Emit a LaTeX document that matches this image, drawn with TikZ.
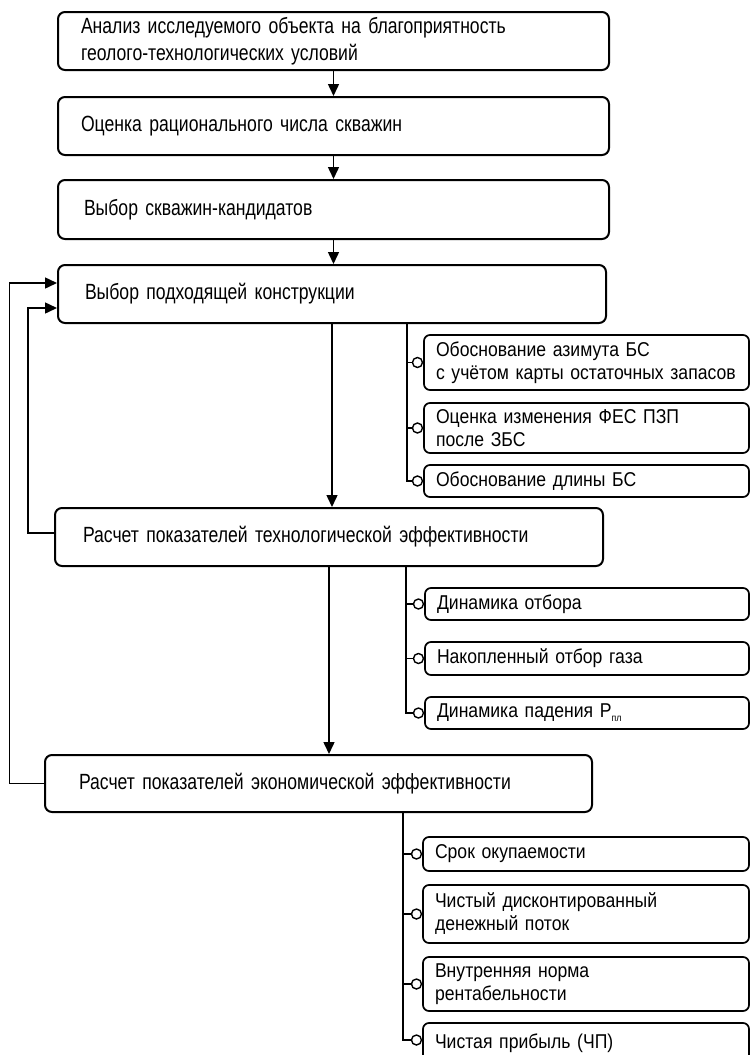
\documentclass[tikz,border=0pt]{standalone}
\usepackage{fontspec}
\setmainfont{Liberation Sans}
\newfontfamily\narrowfont[FakeStretch=0.8]{Liberation Sans}
\newfontfamily\subfont[FakeStretch=0.88]{Liberation Sans}
\usetikzlibrary{arrows.meta}
\begin{document}
\begin{tikzpicture}[x=1pt,y=-1pt,
  mainbox/.style={draw, line width=2pt, rounded corners=7pt, inner xsep=23pt, inner ysep=0pt,
    align=left, font=\narrowfont\fontsize{22}{27}\selectfont},
  subbox/.style={draw, line width=1.7pt, rounded corners=6pt, inner xsep=12pt, inner ysep=0pt,
    align=left, font=\subfont\fontsize{20}{23}\selectfont},
  conn/.style={line width=1.5pt},
  arr/.style={conn, -{Triangle[length=12pt,width=11pt]}},
  pin/.style={draw, line width=1.4pt, fill=white, circle, inner sep=0pt, minimum size=10pt}]
\useasboundingbox (0,0) rectangle (750,1055);
\clip (0,0) rectangle (750,1055);
\fill[white] (0,0) rectangle (750,1055);

% main boxes
\node[mainbox, minimum width=551pt, minimum height=58pt, text width=505pt] (b1) at (333.5,41)
  {Анализ исследуемого объекта на благоприятность\\геолого-технологических условий};
\node[mainbox, minimum width=551pt, minimum height=58pt, text width=505pt] (b2) at (333.5,126)
  {Оценка рационального числа скважин};
\node[mainbox, minimum width=551pt, minimum height=59pt, inner xsep=26pt, text width=499pt] (b3) at (333.5,209.5)
  {Выбор скважин-кандидатов};
\node[mainbox, minimum width=548pt, minimum height=58pt, inner xsep=27pt, text width=494pt] (b4) at (332,294)
  {Выбор подходящей конструкции};
\node[mainbox, minimum width=548pt, minimum height=58pt, inner xsep=28pt, text width=492pt] (b5) at (329,537)
  {Расчет показателей технологической эффективности};
\node[mainbox, minimum width=547pt, minimum height=57pt, inner xsep=34pt, text width=479pt] (b6) at (318.5,783.5)
  {Расчет показателей экономической эффективности};

% sub boxes group 1
\node[subbox, minimum width=325pt, minimum height=55pt, text width=301pt] (s1) at (586.5,362.5)
  {Обоснование азимута БС\\с учётом карты остаточных запасов};
\node[subbox, minimum width=325pt, minimum height=50pt, text width=301pt] (s2) at (586.5,428)
  {Оценка изменения ФЕС ПЗП\\после ЗБС};
\node[subbox, minimum width=325pt, minimum height=32pt, text width=301pt] (s3) at (586.5,481)
  {Обоснование длины БС};
% group 2
\node[subbox, minimum width=324pt, minimum height=32pt, text width=300pt] (t1) at (587,604)
  {Динамика отбора};
\node[subbox, minimum width=324pt, minimum height=33pt, text width=300pt] (t2) at (587,658.5)
  {Накопленный отбор газа};
\node[subbox, minimum width=324pt, minimum height=32pt, text width=300pt] (t3) at (587,713)
  {Динамика падения P\raisebox{-0.4ex}{\fontsize{10}{10}\selectfont пл}};
% group 3
\node[subbox, minimum width=326pt, minimum height=34pt, text width=302pt] (u1) at (586,854)
  {Срок окупаемости};
\node[subbox, minimum width=326pt, minimum height=58pt, text width=302pt] (u2) at (586,914)
  {Чистый дисконтированный\\денежный поток};
\node[subbox, minimum width=326pt, minimum height=54pt, text width=302pt] (u3) at (586,984)
  {Внутренняя норма\\рентабельности};
\node[subbox, minimum width=326pt, minimum height=40pt, text width=302pt] (u4) at (586,1043)
  {\raisebox{3pt}{Чистая прибыль (ЧП)}};

% main arrows
\draw[arr] (b1.south) -- (b1.south |- b2.north);
\draw[arr] (b2.south) -- (b2.south |- b3.north);
\draw[arr] (b3.south) -- (b3.south |- b4.north);
\draw[arr] (b4.south) -- (b4.south |- b5.north);
\draw[arr] (b5.south) -- (b5.south |- b6.north);

% feedback arrows
\draw[arr] ([yshift=4pt]b5.west) -- ++(-26,0) |- ([yshift=-14pt]b4.west);
\draw[arr] (b6.west) -- ++(-34.5,0) |- ([yshift=11pt]b4.west);

% branch group 1
\coordinate (j1) at ([xshift=75pt]b4.south);
\node[pin, anchor=east] (c1) at (s1.west) {};
\node[pin, anchor=east] (c2) at (s2.west) {};
\node[pin, anchor=east] (c3) at (s3.west) {};
\draw[conn] (j1) |- (c3.west);
\draw[conn] (j1 |- c1) -- (c1.west);
\draw[conn] (j1 |- c2) -- (c2.west);

% branch group 2
\coordinate (j2) at ([xshift=77pt]b5.south);
\node[pin, anchor=east] (d1) at (t1.west) {};
\node[pin, anchor=east] (d2) at (t2.west) {};
\node[pin, anchor=east] (d3) at (t3.west) {};
\draw[conn] (j2) |- (d3.west);
\draw[conn] (j2 |- d1) -- (d1.west);
\draw[conn] (j2 |- d2) -- (d2.west);

% branch group 3
\coordinate (j3) at ([xshift=84.5pt]b6.south);
\node[pin, anchor=east] (e1) at (u1.west) {};
\node[pin, anchor=east] (e2) at (u2.west) {};
\node[pin, anchor=east] (e3) at (u3.west) {};
\node[pin, anchor=east] (e4) at ([yshift=3pt]u4.west) {};
\draw[conn] (j3) |- (e4.west);
\draw[conn] (j3 |- e1) -- (e1.west);
\draw[conn] (j3 |- e2) -- (e2.west);
\draw[conn] (j3 |- e3) -- (e3.west);
\end{tikzpicture}
\end{document}
